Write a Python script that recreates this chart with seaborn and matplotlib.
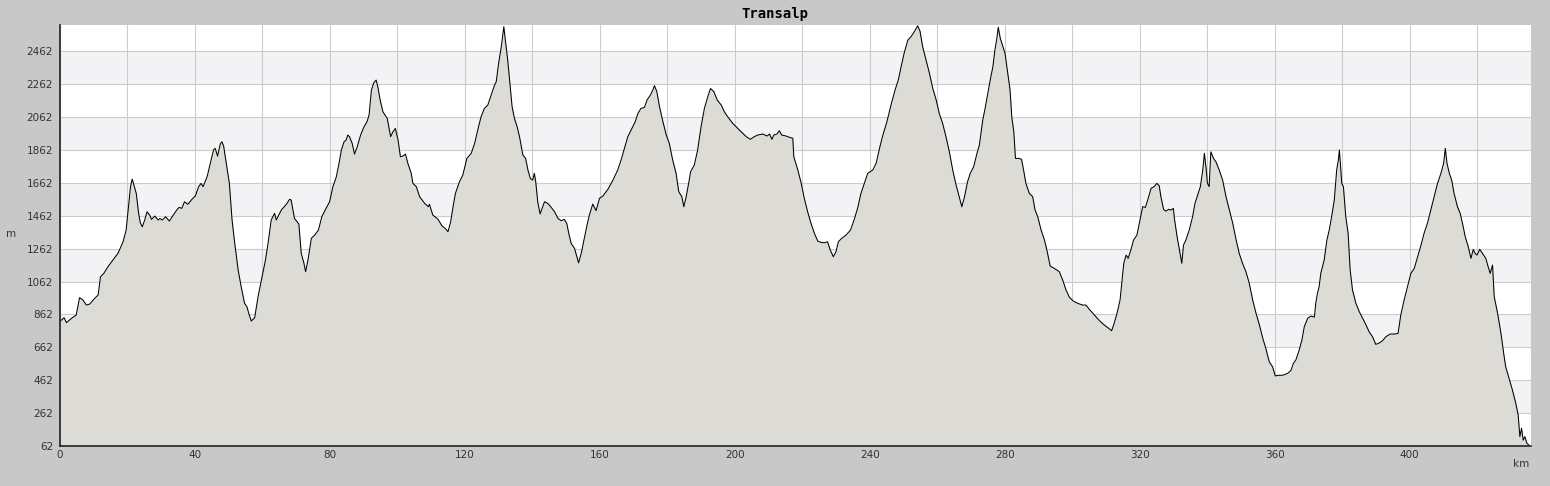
"""Profil altimétrique Transalp."""

import matplotlib.pyplot as plt
import pandas as pd
import seaborn as sns
from matplotlib.ticker import FixedLocator, FuncFormatter, MultipleLocator


KM = [
    0.0, 1.2, 1.9, 3.4, 4.8, 5.8, 6.8, 7.8, 8.8, 10.3, 11.3, 12.0, 13.0, 14.2, 15.7, 17.2,
    18.7, 19.6, 20.3, 20.9, 21.4, 21.9, 22.6, 23.3, 23.8, 24.4, 25.1, 25.8, 26.6, 27.1, 28.1,
    29.1, 29.6, 30.3, 31.3, 32.4, 33.6, 34.6, 35.3, 36.1, 36.9, 37.9, 39.1, 40.1, 41.1, 41.8,
    42.4, 43.6, 44.2, 44.8, 45.5, 46.0, 46.7, 47.5, 48.0, 48.5, 49.3, 50.2, 51.0, 51.8, 52.8,
    53.7, 54.7, 55.4, 56.1, 56.7, 57.7, 58.7, 59.7, 60.9, 61.7, 62.6, 63.6, 64.1, 65.6, 67.1,
    68.05, 68.5, 69.5, 70.8, 71.5, 72.3, 72.8, 73.5, 74.5, 75.5, 76.6, 77.6, 78.6, 79.9, 80.9,
    81.9, 82.7, 83.4, 84.2, 84.8, 85.3, 85.8, 86.6, 87.3, 88.1, 89.1, 90.1, 91.0, 91.6, 92.3,
    93.0, 93.7, 94.2, 94.9, 95.7, 97.0, 98.0, 98.7, 99.4, 100.2, 100.9, 101.6, 102.4, 103.1,
    104.1, 104.6, 105.6, 106.6, 108.1, 109.2, 109.5, 110.5, 112.0, 113.2, 114.2, 115.0, 115.8,
    116.5, 117.2, 118.4, 119.4, 120.6, 121.9, 122.9, 123.9, 124.8, 125.8, 126.8, 127.8, 128.8,
    129.3, 130.0, 130.8, 131.3, 131.55, 132.0, 132.7, 133.4, 134.0, 134.7, 135.5, 136.2, 137.2,
    138.0, 138.7, 139.4, 140.1, 140.6, 141.0, 141.6, 142.3, 142.9, 143.6, 144.6, 145.6, 146.6,
    147.6, 148.5, 149.5, 150.2, 150.8, 151.5, 152.5, 153.2, 153.7, 154.5, 155.3, 156.1, 156.9,
    157.9, 158.9, 159.9, 160.9, 162.4, 163.9, 165.3, 166.3, 167.3, 168.3, 169.5, 170.5, 171.3,
    172.2, 173.2, 174.0, 175.0, 175.7, 176.2, 176.9, 177.7, 178.7, 179.7, 180.6, 181.6, 182.6,
    183.4, 184.3, 184.9, 185.6, 186.6, 186.9, 188.0, 189.0, 190.0, 191.0, 192.0, 192.8, 193.8,
    194.8, 196.0, 196.9, 197.9, 199.4, 200.9, 202.4, 203.4, 204.6, 205.8, 206.8, 208.3, 209.6,
    210.3, 211.0, 211.6, 212.5, 213.2, 213.9, 215.2, 216.2, 217.2, 217.5, 218.7, 219.7, 220.6,
    221.6, 222.6, 223.6, 224.6, 225.6, 226.6, 227.5, 228.3, 229.2, 230.0, 230.7, 231.7, 233.0,
    234.3, 235.5, 236.4, 237.4, 238.4, 239.4, 240.9, 241.9, 242.9, 243.9, 245.1, 246.3, 247.5,
    248.5, 249.3, 250.3, 251.3, 252.2, 253.2, 254.2, 254.9, 255.7, 256.7, 257.7, 258.7, 259.7,
    260.6, 261.6, 262.6, 263.6, 264.6, 265.6, 266.4, 267.3, 268.1, 269.0, 269.8, 270.8, 271.8,
    272.5, 273.5, 274.2, 275.0, 275.8, 276.5, 277.1, 277.6, 278.1, 278.7, 279.5, 280.1, 280.9,
    281.6, 282.1, 282.7, 283.2, 284.3, 285.0, 285.6, 286.3, 287.3, 288.3, 289.0, 289.8, 290.8,
    291.8, 292.5, 293.5, 294.7, 296.2, 297.2, 298.2, 299.2, 300.3, 301.6, 303.1, 304.1, 305.1,
    306.6, 308.1, 309.5, 311.0, 311.7, 312.3, 313.3, 314.2, 314.7, 315.3, 316.0, 316.6, 317.4,
    318.2, 319.2, 320.1, 320.9, 321.7, 322.4, 323.4, 324.3, 325.1, 325.8, 326.3, 327.1, 327.8,
    328.6, 329.3, 330.0, 330.3, 331.1, 331.8, 332.5, 333.0, 333.7, 334.7, 335.7, 336.4, 337.2,
    338.0, 338.7, 339.2, 339.7, 340.1, 340.6, 341.1, 341.9, 342.6, 343.6, 344.6, 345.6, 346.6,
    347.6, 348.5, 349.5, 350.5, 351.5, 352.5, 353.5, 354.5, 355.5, 356.5, 357.4, 358.4, 359.4,
    360.2, 361.1, 362.4, 363.9, 364.8, 365.6, 366.3, 367.3, 368.1, 368.8, 369.8, 370.8, 371.8,
    372.2, 372.7, 373.2, 373.7, 374.7, 375.5, 376.2, 376.9, 377.7, 378.4, 378.9, 379.2, 379.5,
    379.9, 380.4, 381.1, 381.8, 382.4, 383.1, 384.1, 385.1, 386.1, 387.1, 388.0, 389.0, 390.0,
    391.0, 392.0, 393.0, 394.3, 395.7, 396.6, 397.4, 398.4, 399.4, 400.4, 401.4, 402.4, 403.4,
    404.3, 405.3, 406.3, 407.3, 408.3, 409.3, 410.1, 410.6, 411.1, 411.8, 412.5, 413.2, 414.2,
    415.0, 415.7, 416.5, 417.4, 418.2, 418.9, 419.4, 420.0, 420.8, 421.6, 422.6, 423.3, 423.9,
    424.6, 425.1, 426.1, 427.1, 427.9, 428.5, 429.5, 430.5, 431.5, 432.2, 432.7, 433.2, 433.7,
    434.2, 434.8, 435.4,
]

ALTITUDE = [
    820, 842, 812, 838, 858, 964, 950, 919, 925, 960, 980, 1091, 1112, 1152, 1193, 1234,
    1304, 1375, 1517, 1639, 1685, 1649, 1598, 1477, 1420, 1395, 1436, 1486, 1466, 1440, 1460,
    1436, 1446, 1436, 1456, 1430, 1466, 1497, 1513, 1507, 1547, 1532, 1562, 1582, 1639, 1659,
    1639, 1699, 1750, 1801, 1862, 1872, 1825, 1898, 1912, 1886, 1781, 1659, 1436, 1294, 1132,
    1031, 930, 909, 858, 822, 842, 970, 1071, 1193, 1300, 1436, 1477, 1436, 1497, 1532,
    1562, 1558, 1446, 1412, 1234, 1173, 1122, 1193, 1325, 1345, 1375, 1456, 1497, 1547, 1639,
    1699, 1781, 1862, 1912, 1922, 1953, 1943, 1902, 1837, 1882, 1953, 2003, 2034, 2074, 2226,
    2271, 2287, 2247, 2166, 2095, 2054, 1943, 1973, 1993, 1922, 1821, 1825, 1837, 1781,
    1720, 1659, 1639, 1578, 1537, 1517, 1532, 1466, 1442, 1401, 1385, 1365, 1426,
    1517, 1598, 1669, 1710, 1811, 1842, 1902, 1990, 2064, 2115, 2135, 2196, 2257,
    2277, 2389, 2490, 2571, 2612, 2530, 2409, 2257, 2125, 2054, 2003, 1943, 1831,
    1811, 1740, 1689, 1679, 1720, 1670, 1547, 1473, 1507, 1547, 1537, 1513, 1486,
    1446, 1432, 1440, 1416, 1355, 1294, 1264, 1213, 1176, 1234, 1314, 1395, 1466,
    1533, 1493, 1568, 1582, 1623, 1679, 1740, 1801, 1872, 1943, 1993, 2034, 2085,
    2115, 2120, 2166, 2196, 2226, 2253, 2217, 2125, 2034, 1953, 1902, 1801, 1720,
    1608, 1578, 1517, 1578, 1690, 1730, 1770, 1862, 2003, 2115, 2186, 2236, 2217,
    2166, 2135, 2095, 2064, 2024, 1993, 1963, 1943, 1927, 1943, 1953, 1959, 1947,
    1959, 1927, 1953, 1959, 1979, 1953, 1947, 1939, 1933, 1821, 1740, 1659, 1568,
    1486, 1416, 1355, 1308, 1300, 1298, 1304, 1254, 1213, 1243, 1304, 1325, 1345,
    1375, 1446, 1507, 1598, 1659, 1720, 1740, 1781, 1872, 1953, 2034, 2135, 2226,
    2290, 2368, 2459, 2530, 2550, 2581, 2617, 2585, 2490, 2409, 2328, 2236, 2166,
    2085, 2024, 1943, 1851, 1740, 1649, 1588, 1517, 1578, 1669, 1720, 1760, 1842,
    1892, 2044, 2115, 2206, 2297, 2368, 2470, 2530, 2608, 2541, 2490, 2450, 2328,
    2226, 2064, 1973, 1811, 1811, 1805, 1740, 1659, 1598, 1578, 1497, 1456, 1375,
    1314, 1254, 1156, 1142, 1122, 1071, 1010, 966, 944, 930, 919, 919, 893,
    858, 824, 798, 775, 763, 798, 869, 950, 1051, 1173, 1223, 1203, 1254,
    1314, 1345, 1436, 1517, 1513, 1558, 1629, 1639, 1659, 1645, 1578, 1501, 1490,
    1501, 1497, 1507, 1446, 1335, 1254, 1173, 1284, 1314, 1375, 1456, 1537, 1588,
    1639, 1740, 1842, 1750, 1659, 1639, 1851, 1811, 1791, 1740, 1679, 1578, 1497,
    1416, 1325, 1234, 1173, 1122, 1051, 950, 869, 798, 717, 656, 575, 544,
    488, 492, 492, 504, 520, 565, 585, 646, 707, 787, 838, 852, 846,
    930, 990, 1031, 1112, 1193, 1314, 1375, 1456, 1558, 1740, 1801, 1862, 1781,
    1659, 1639, 1456, 1355, 1132, 1010, 930, 879, 838, 798, 757, 727, 680,
    688, 702, 727, 743, 743, 747, 858, 950, 1031, 1112, 1142, 1213, 1284,
    1355, 1416, 1497, 1578, 1659, 1720, 1781, 1872, 1781, 1720, 1679, 1598, 1517,
    1477, 1416, 1335, 1274, 1203, 1258, 1234, 1223, 1258, 1234, 1203, 1152, 1112,
    1162, 970, 869, 747, 626, 544, 474, 402, 321, 250, 119, 170, 98,
    119, 78, 68,
]

Y_TICKS = [62, 262, 462, 662, 862, 1062, 1262, 1462, 1662, 1862, 2062, 2262, 2462]
X_TICKS = [0, 40, 80, 120, 160, 200, 240, 280, 320, 360, 400]

FOND = "#c8c8c8"
BANDE = "#f3f2f5"
REMPLISSAGE = "#dcdbd6"
GRILLE = "#cccccc"
TRAIT = "#222222"


sns.set_style("white")
plt.rcParams["font.family"] = ["DejaVu Sans"]

df = pd.DataFrame({"km": KM, "altitude": ALTITUDE})

fig = plt.figure(figsize=(15.5, 4.86), dpi=100, facecolor=FOND)
ax = fig.add_axes([60 / 1550, 40 / 486, 1471 / 1550, 421 / 486])
ax.set_facecolor("white")

# bandes alternées
for bas in Y_TICKS[1::2]:
    ax.axhspan(bas, bas + 200, color=BANDE, lw=0, zorder=0)

ax.fill_between(df["km"], df["altitude"], 0, color=REMPLISSAGE, lw=0, zorder=1)
sns.lineplot(data=df, x="km", y="altitude", color="black", linewidth=0.75, ax=ax, zorder=2)

ax.set_xlim(0, 436)
ax.set_ylim(62, 2622)

ax.xaxis.set_major_locator(MultipleLocator(20))
ax.xaxis.set_minor_locator(MultipleLocator(10))
ax.xaxis.set_major_formatter(FuncFormatter(lambda x, _: f"{x:.0f}" if round(x) in X_TICKS else ""))
ax.yaxis.set_major_locator(FixedLocator(Y_TICKS))
ax.yaxis.set_minor_locator(FixedLocator([v + 100 for v in Y_TICKS]))

ax.set_axisbelow(True)
ax.grid(True, which="major", color=GRILLE, linewidth=0.8)

ax.tick_params(which="both", direction="in", color=TRAIT, width=1.0, labelsize=7.5, labelcolor="#333333")
ax.tick_params(which="major", length=3.8)
ax.tick_params(which="minor", length=2.6)
ax.tick_params(axis="y", pad=5)
ax.tick_params(axis="x", pad=3)

for cote in ["top", "right"]:
    ax.spines[cote].set_visible(False)
for cote in ["left", "bottom"]:
    ax.spines[cote].set_color(TRAIT)
    ax.spines[cote].set_linewidth(1.2)

ax.set_xlabel("")
ax.set_ylabel("")

fig.text(0.5, 1 - 14 / 486, "Transalp", ha="center", va="center",
         family="DejaVu Sans Mono", weight="bold", size=10, color="black")
fig.text(11 / 1550, 1 - 234 / 486, "m", ha="center", va="center", size=7.5, color="#333333")
fig.text(1521 / 1550, 1 - 464 / 486, "km", ha="center", va="center", size=7.5, color="#333333")

fig.savefig("out.png", dpi=100, facecolor=FOND)
plt.close(fig)
